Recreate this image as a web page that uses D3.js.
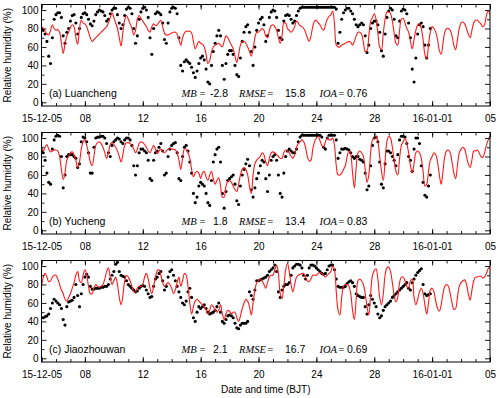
<!DOCTYPE html>
<html>
<head>
<meta charset="utf-8">
<script src="https://cdn.jsdelivr.net/npm/d3@7"></script>
<style>
  html, body { margin: 0; padding: 0; background: #fff; }
  svg { display: block; font-family: "Liberation Sans", Arial, Helvetica, sans-serif; }
  .axis text { font-size: 10px; fill: #000; font-family: "Liberation Sans", Arial, sans-serif; }
  .axis line { stroke: #000; stroke-width: 0.9; }
  .station { font-size: 10.5px; fill: #000; }
  .stat { font-size: 10.5px; fill: #000; }
  .stat-lab { font-family: "Liberation Serif", "Times New Roman", serif; font-style: italic; }
  .stat-eq { font-family: "Liberation Serif", "Times New Roman", serif; }
  .title { font-size: 10px; fill: #000; }
</style>
</head>
<body>
<svg id="chart" width="500" height="398"></svg>
<script>
const svg = d3.select("#chart");

const plot = { left: 41.5, right: 490, height: 101.5 };
const panelTops = [4.5, 132.5, 260.5];

const startTime = new Date(2015, 11, 5);
const endTime = new Date(2016, 0, 5);
const stepHours = 3;

// x tick labels (days after 15-12-05)
const majorTickDays = [0, 3, 7, 11, 15, 19, 23, 27, 31];
const majorTickLabels = ["15-12-05", "08", "12", "16", "20", "24", "28", "16-01-01", "05"];
const yMajor = [0, 20, 40, 60, 80, 100];
const yMinor = [10, 30, 50, 70, 90];

const stations = ["(a) Luancheng", "(b) Yucheng", "(c) Jiaozhouwan"];
const statMB = ["-2.8", "1.8", "2.1"];
const statRMSE = ["15.8", "13.4", "16.7"];
const statIOA = ["0.76", "0.83", "0.69"];

// 3-hourly relative humidity (%), one row per day, starting 15-12-05 00 BJT
const luanchengObs = [
  80, 78, 74, 66, 50, 42, 70, 90,
  95, 97, 97, 92, 72, 64, 76, 80,
  88, 94, 95, 86, 74, 80, 92, 96,
  97, 95, 90, 85, 83, 88, 95, 98,
  100, 99, 98, 94, 88, 90, 96, 100,
  102, 102, 95, 86, 80, 84, 94, 101,
  103, 102, 96, 80, 64, 72, 90, 98,
  102, 103, 100, 92, 70, 52, 80, 96,
  98, 97, 95, 86, 68, 64, 86, 98,
  102, 103, 102, 96, 70, 40, 34, 44,
  46, 44, 42, 38, 32, 27, 34, 42,
  48, 50, 46, 36, 22, 20, 40, 55,
  64, 72, 78, 72, 40, 25, 42, 52,
  56, 56, 52, 40, 30, 28, 48, 66,
  76, 82, 84, 76, 55, 40, 60, 78,
  86, 90, 92, 84, 66, 72, 92, 98,
  100, 99, 92, 78, 70, 68, 88, 94,
  95, 94, 90, 86, 88, 94, 99, 102,
  103, 103, 103, 103, 103, 103, 103, 103,
  103, 103, 103, 103, 103, 103, 103, 103,
  103, 103, 103, 101, 64, 76, 90, 97,
  100, 102, 102, 99, 96, 90, 84, 82,
  84, 86, 84, 72, 54, 62, 80, 86,
  88, 88, 84, 76, 56, 50, 74, 92,
  99, 102, 100, 90, 72, 70, 88, 99,
  101, 100, 96, 86, 70, 36, 22, 48,
  74, 84, 86, 82, 62, 48, 62, 80
];
const luanchengModel = [
  82, 80, 77, 74, 73, 78, 84, 80,
  78, 79, 76, 64, 53, 63, 72, 76,
  81, 84, 82, 70, 63, 80, 89, 86,
  85, 82, 76, 70, 66, 68, 70, 72,
  74, 76, 78, 80, 82, 86, 92, 97,
  92, 86, 80, 70, 61, 76, 89, 94,
  90, 85, 80, 73, 78, 90, 94, 91,
  88, 85, 82, 78, 76, 82, 85, 83,
  84, 87, 89, 82, 75, 73, 73, 74,
  75, 76, 76, 74, 68, 62, 70, 75,
  77, 77, 77, 75, 66, 58, 62, 66,
  64, 63, 60, 52, 42, 45, 55, 60,
  62, 63, 64, 62, 60, 66, 72, 70,
  66, 62, 58, 50, 43, 52, 62, 66,
  66, 64, 60, 55, 50, 58, 70, 76,
  76, 78, 80, 78, 72, 70, 78, 83,
  84, 82, 78, 70, 64, 72, 86, 86,
  80, 78, 76, 78, 82, 88, 86, 83,
  82, 80, 76, 70, 66, 72, 82, 88,
  89, 86, 84, 80, 78, 84, 90, 93,
  95, 99, 85, 62, 60, 60, 62, 63,
  64, 65, 66, 65, 62, 66, 72, 76,
  76, 74, 65, 55, 56, 72, 88, 92,
  96, 90, 75, 60, 57, 75, 90, 98,
  98, 96, 88, 75, 64, 62, 78, 90,
  91, 86, 80, 76, 66, 58, 68, 78,
  84, 85, 80, 68, 52, 47, 62, 76,
  82, 80, 76, 68, 56, 52, 64, 76,
  80, 80, 78, 72, 62, 57, 68, 80,
  86, 87, 85, 80, 74, 70, 78, 86,
  89, 89, 87, 85, 82, 84, 94, 99,
  95
];

const yuchengObs = [
  86, 84, 76, 62, 52, 50, 88, 98,
  102, 103, 102, 80, 46, 60, 80, 82,
  82, 82, 80, 78, 68, 72, 96, 101,
  100, 96, 84, 62, 62, 90, 100, 101,
  101, 102, 102, 100, 94, 84, 80, 92,
  96, 98, 100, 99, 96, 94, 98, 100,
  100, 98, 92, 70, 60, 70, 84, 88,
  88, 86, 84, 76, 56, 54, 76, 84,
  86, 90, 94, 86, 60, 62, 80, 88,
  92, 94, 95, 84, 56, 54, 80, 90,
  92, 86, 74, 62, 40, 30, 36, 48,
  52, 50, 48, 40, 30, 27, 54, 74,
  82, 88, 90, 74, 40, 24, 42, 54,
  56, 58, 60, 50, 32, 28, 48, 60,
  66, 72, 77, 70, 44, 36, 46, 56,
  62, 70, 76, 74, 56, 42, 60, 76,
  80, 82, 76, 60, 40, 36, 62, 80,
  86, 88, 86, 84, 84, 88, 96, 101,
  103, 103, 103, 103, 103, 103, 103, 103,
  103, 103, 103, 101, 90, 88, 100, 103,
  103, 103, 103, 98, 78, 84, 88, 88,
  89, 88, 87, 84, 80, 78, 80, 80,
  77, 76, 74, 62, 44, 48, 70, 92,
  100, 101, 96, 74, 50, 46, 72, 86,
  86, 84, 80, 76, 70, 82, 98, 102,
  102, 101, 94, 80, 76, 64, 88, 100,
  100, 94, 70, 52, 38, 36, 48, 60
];
const yuchengModel = [
  91, 86, 90, 93, 88, 85, 86, 87,
  87, 86, 80, 66, 55, 62, 76, 80,
  84, 85, 82, 76, 68, 74, 88, 96,
  98, 92, 84, 74, 70, 80, 92, 95,
  96, 94, 90, 84, 78, 84, 93, 95,
  93, 90, 86, 80, 74, 82, 92, 95,
  95, 94, 92, 88, 84, 88, 94, 96,
  95, 93, 90, 86, 84, 88, 92, 88,
  83, 86, 88, 86, 84, 86, 88, 89,
  88, 88, 87, 84, 76, 66, 78, 88,
  88, 84, 78, 66, 58, 62, 64, 62,
  56, 62, 64, 58, 54, 60, 64, 56,
  50, 54, 57, 48, 36, 36, 48, 53,
  54, 52, 48, 44, 42, 50, 60, 66,
  68, 66, 60, 48, 40, 60, 72, 76,
  78, 80, 84, 82, 74, 70, 78, 84,
  85, 84, 82, 80, 78, 78, 84, 87,
  86, 84, 80, 78, 82, 90, 94, 96,
  98, 96, 90, 80, 75, 76, 88, 96,
  100, 102, 97, 92, 90, 96, 100, 98,
  98, 100, 92, 70, 60, 60, 62, 66,
  70, 80, 86, 82, 62, 46, 68, 84,
  86, 84, 80, 66, 52, 60, 84, 98,
  100, 102, 96, 80, 64, 54, 76, 96,
  102, 100, 90, 76, 64, 60, 78, 92,
  96, 100, 94, 84, 70, 62, 72, 84,
  86, 84, 78, 64, 48, 50, 64, 76,
  80, 84, 82, 74, 60, 50, 64, 80,
  86, 87, 84, 74, 62, 56, 70, 84,
  88, 90, 88, 80, 72, 68, 76, 86,
  86, 87, 84, 80, 79, 84, 92, 98,
  102
];

const jiaozhouwanObs = [
  44, 44, 45, 46, 48, 54, 60, 64,
  62, 60, 58, 54, 42, 36, 56, 61,
  62, 63, 66, 80, 68, 56, 70, 80,
  88, 91, 88, 78, 75, 75, 76, 76,
  76, 77, 77, 78, 78, 80, 86, 90,
  94, 102, 104, 94, 90, 89, 88, 84,
  80, 78, 76, 74, 72, 73, 76, 78,
  79, 78, 74, 70, 66, 67, 78, 86,
  88, 92, 94, 84, 74, 78, 88, 94,
  96, 90, 84, 78, 72, 66, 60, 58,
  62, 72, 76, 66, 44, 40, 50, 56,
  54, 56, 58, 54, 50, 48, 49, 50,
  52, 56, 60, 50, 40, 38, 42, 46,
  47, 46, 44, 38, 33, 32, 36, 38,
  38, 38, 40, 72, 68, 64, 74, 84,
  84, 85, 86, 87, 88, 90, 94, 96,
  98, 101, 94, 72, 66, 74, 78, 80,
  80, 82, 90, 98, 100, 102, 102, 101,
  98, 90, 86, 90, 98, 101, 101, 100,
  98, 96, 94, 92, 91, 92, 96, 100,
  101, 101, 96, 86, 78, 77, 77, 77,
  78, 81, 83, 84, 82, 78, 70, 68,
  67, 66, 66, 56, 48, 58, 68, 64,
  60, 56, 48, 44, 46, 52, 56, 58,
  60, 62, 66, 68, 70, 72, 74, 76,
  78, 80, 82, 76, 74, 82, 86, 90,
  93, 95, 97, 80, 70, 68, 69, 70
];
const jiaozhouwanModel = [
  78, 88, 92, 88, 83, 84, 88, 90,
  90, 86, 80, 74, 70, 64, 62, 66,
  70, 76, 82, 90, 94, 84, 82, 90,
  96, 90, 78, 70, 70, 76, 80, 78,
  77, 78, 80, 86, 94, 98, 88, 80,
  84, 88, 80, 66, 58, 68, 84, 90,
  88, 84, 78, 72, 72, 76, 78, 78,
  80, 88, 92, 86, 76, 70, 78, 88,
  95, 96, 90, 82, 78, 80, 82, 80,
  76, 70, 74, 82, 88, 78, 84, 92,
  90, 78, 60, 48, 56, 62, 64, 62,
  60, 58, 56, 52, 48, 52, 58, 56,
  52, 50, 52, 58, 48, 42, 48, 52,
  51, 48, 50, 50, 44, 40, 46, 54,
  60, 64, 62, 56, 47, 60, 74, 82,
  84, 86, 84, 80, 76, 82, 88, 90,
  90, 96, 101, 92, 70, 65, 78, 96,
  103, 94, 80, 72, 80, 88, 90, 91,
  92, 92, 88, 84, 83, 86, 90, 90,
  90, 92, 93, 92, 90, 88, 90, 92,
  94, 100, 96, 72, 52, 47, 66, 78,
  80, 80, 78, 70, 52, 42, 64, 84,
  86, 84, 80, 70, 56, 47, 70, 90,
  95, 97, 86, 66, 58, 70, 90, 98,
  99, 94, 82, 68, 61, 66, 82, 88,
  88, 84, 78, 76, 84, 86, 66, 58,
  64, 72, 76, 70, 58, 48, 60, 74,
  76, 72, 62, 54, 51, 58, 70, 78,
  80, 78, 70, 60, 53, 54, 66, 78,
  82, 84, 85, 80, 70, 63, 74, 84,
  88, 88, 89, 89, 87, 88, 92, 97,
  99
];

const panels = [
  { obs: luanchengObs, model: luanchengModel },
  { obs: yuchengObs, model: yuchengModel },
  { obs: jiaozhouwanObs, model: jiaozhouwanModel },
];

const x = d3.scaleTime().domain([startTime, endTime]).range([plot.left, plot.right]);
const timeAt = (i) => d3.timeHour.offset(startTime, i * stepHours);

const dailyTicks = d3.timeDay.range(startTime, d3.timeDay.offset(endTime, 1));
const majorTicks = majorTickDays.map((d) => d3.timeDay.offset(startTime, d));
const tickLabel = (d) => majorTickLabels[majorTicks.findIndex((t) => +t === +d)];

svg.append("defs")
  .append("clipPath")
  .attr("id", "plotClip")
  .append("rect")
  .attr("x", plot.left)
  .attr("y", 0)
  .attr("width", plot.right - plot.left)
  .attr("height", 398);

function drawPanel(p, k) {
  const top = panelTops[k];
  const bottom = top + plot.height;
  const y = d3.scaleLinear().domain([-4, 106]).range([bottom, top]);
  const g = svg.append("g");

  const clipG = g.append("g").attr("clip-path", "url(#plotClip)");

  clipG.append("g")
    .selectAll("circle")
    .data(p.obs)
    .join("circle")
    .attr("cx", (d, i) => x(timeAt(i)))
    .attr("cy", (d) => y(d))
    .attr("r", 1.55)
    .attr("fill", "#000");

  const line = d3.line()
    .x((d, i) => x(timeAt(i)))
    .y((d) => y(d))
    .curve(d3.curveCatmullRom.alpha(0.5));

  clipG.append("path")
    .attr("d", line(p.model))
    .attr("fill", "none")
    .attr("stroke", "#ff1a1a")
    .attr("stroke-width", 1.1);

  // axes: ticks point inward on all four sides
  const noDomain = (s) => s.select(".domain").remove();

  g.append("g").attr("class", "axis").attr("transform", `translate(0,${bottom})`)
    .call(d3.axisBottom(x).tickValues(dailyTicks).tickSize(-3).tickFormat(""))
    .call(noDomain);
  g.append("g").attr("class", "axis").attr("transform", `translate(0,${bottom})`)
    .call(d3.axisBottom(x).tickValues(majorTicks).tickSize(-5).tickPadding(8.5).tickFormat(tickLabel))
    .call(noDomain);
  g.append("g").attr("class", "axis").attr("transform", `translate(0,${top})`)
    .call(d3.axisTop(x).tickValues(dailyTicks).tickSize(-3).tickFormat(""))
    .call(noDomain);
  g.append("g").attr("class", "axis").attr("transform", `translate(0,${top})`)
    .call(d3.axisTop(x).tickValues(majorTicks).tickSize(-5).tickFormat(""))
    .call(noDomain);

  g.append("g").attr("class", "axis").attr("transform", `translate(${plot.left},0)`)
    .call(d3.axisLeft(y).tickValues(yMajor).tickSize(-5).tickPadding(3))
    .call(noDomain);
  g.append("g").attr("class", "axis").attr("transform", `translate(${plot.left},0)`)
    .call(d3.axisLeft(y).tickValues(yMinor).tickSize(-3).tickFormat(""))
    .call(noDomain);
  g.append("g").attr("class", "axis").attr("transform", `translate(${plot.right},0)`)
    .call(d3.axisRight(y).tickValues(yMajor).tickSize(-5).tickFormat(""))
    .call(noDomain);
  g.append("g").attr("class", "axis").attr("transform", `translate(${plot.right},0)`)
    .call(d3.axisRight(y).tickValues(yMinor).tickSize(-3).tickFormat(""))
    .call(noDomain);

  g.append("rect")
    .attr("x", plot.left)
    .attr("y", top)
    .attr("width", plot.right - plot.left)
    .attr("height", plot.height)
    .attr("fill", "none")
    .attr("stroke", "#000")
    .attr("stroke-width", 1);

  g.append("text")
    .attr("class", "title")
    .attr("transform", `translate(11,${top + plot.height / 2}) rotate(-90)`)
    .attr("text-anchor", "middle")
    .text("Relative humidity (%)");

  const base = top + 92.5;
  g.append("text").attr("class", "station").attr("x", 49).attr("y", base).text(stations[k]);

  const stat = g.append("g").attr("class", "stat");
  const put = (cls, xPos, txt) =>
    stat.append("text").attr("class", cls).attr("x", xPos).attr("y", base).text(txt);
  put("stat-lab", 181.5, "MB");
  put("stat-eq", 199.5, "=");
  put("", statMB[k].startsWith("-") ? 210 : 213, statMB[k]);
  put("stat-lab", 239, "RMSE");
  put("stat-eq", 267.5, "=");
  put("", 285, statRMSE[k]);
  put("stat-lab", 319.5, "IOA");
  put("stat-eq", 338.5, "=");
  put("", 347, statIOA[k]);
}

panels.forEach(drawPanel);

svg.append("text")
  .attr("class", "title")
  .attr("x", (plot.left + plot.right) / 2)
  .attr("y", 393)
  .attr("text-anchor", "middle")
  .text("Date and time (BJT)");
</script>
</body>
</html>
